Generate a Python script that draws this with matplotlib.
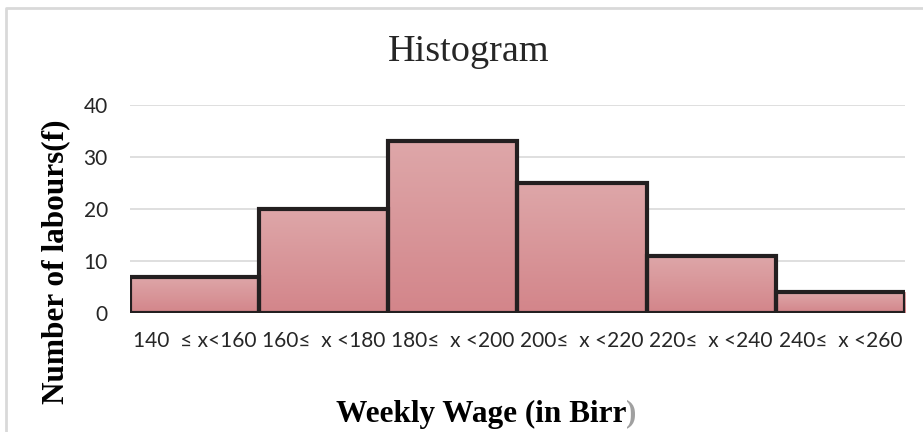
import matplotlib
matplotlib.use("Agg")
import matplotlib.pyplot as plt
import numpy as np
from matplotlib.patches import Rectangle
from matplotlib.colors import LinearSegmentedColormap

# weekly wage classes and labour counts
edges = [140, 160, 180, 200, 220, 240, 260]
freq = [7, 20, 33, 25, 11, 4]
labels = ["140  \u2264 x<160", "160\u2264  x <180", "180\u2264  x <200",
          "200\u2264  x <220", "220\u2264  x <240", "240\u2264  x <260"]

fig = plt.figure(figsize=(9.23, 4.32), dpi=100)
ax = fig.add_axes([130/923, 1-313/432, 775/923, 208/432])

# light-to-dark pink gradient inside each bar
cmap = LinearSegmentedColormap.from_list("pink", ["#d3858a", "#dea7a9"])
grad = np.linspace(0, 1, 256).reshape(-1, 1)
for i, f in enumerate(freq):
    x0, x1 = edges[i], edges[i+1]
    ax.imshow(grad, cmap=cmap, aspect="auto", origin="lower",
              extent=(x0, x1, 0, f), zorder=2)
    ax.add_patch(Rectangle((x0, 0), x1-x0, f, fill=False,
                           edgecolor="#231f20", linewidth=3, zorder=3))

ax.set_xlim(edges[0], edges[-1])
ax.set_ylim(0, 40)
ax.set_yticks([0, 10, 20, 30, 40])
ax.set_xticks([(edges[i]+edges[i+1])/2 for i in range(len(freq))])
ax.set_xticklabels(labels)
for s in ax.spines.values():
    s.set_visible(False)
ax.grid(axis="y", color="#d9d9d9", linewidth=1.2, zorder=0)
ax.axhline(0, color="#d9d9d9", linewidth=1.5, zorder=1)
ax.tick_params(length=0, labelsize=15, labelcolor="#262626", pad=13)
ax.tick_params(axis="y", pad=16)
for t in ax.get_xticklabels() + ax.get_yticklabels():
    t.set_family(["Lato", "DejaVu Sans"])

fig.text(469/923, 1-52/432, "Histogram", ha="center", va="center",
         family="Liberation Serif", fontsize=27.5, color="#262626")
fig.text(56/923, 1-262/432, "Number of labours(f)", rotation=90,
         ha="center", va="center", family="Liberation Serif",
         fontweight="bold", fontsize=22.5)
t = fig.text(336/923, 1-414/432, "Weekly Wage (in Birr", ha="left",
             va="center", family="Liberation Serif", fontweight="bold",
             fontsize=22.5)
fig.canvas.draw()
bb = t.get_window_extent()
fig.text(bb.x1/923, 1-414/432, ")", ha="left", va="center",
         family="Liberation Serif", fontweight="bold", fontsize=22.5,
         color="#a0a0a0")

# outer chart border
fig.add_artist(plt.Line2D([6/923, 6/923, 1], [0, 1-8/432, 1-8/432],
                          color="#d9d9d9", linewidth=2))

fig.savefig("out.png", dpi=100)
